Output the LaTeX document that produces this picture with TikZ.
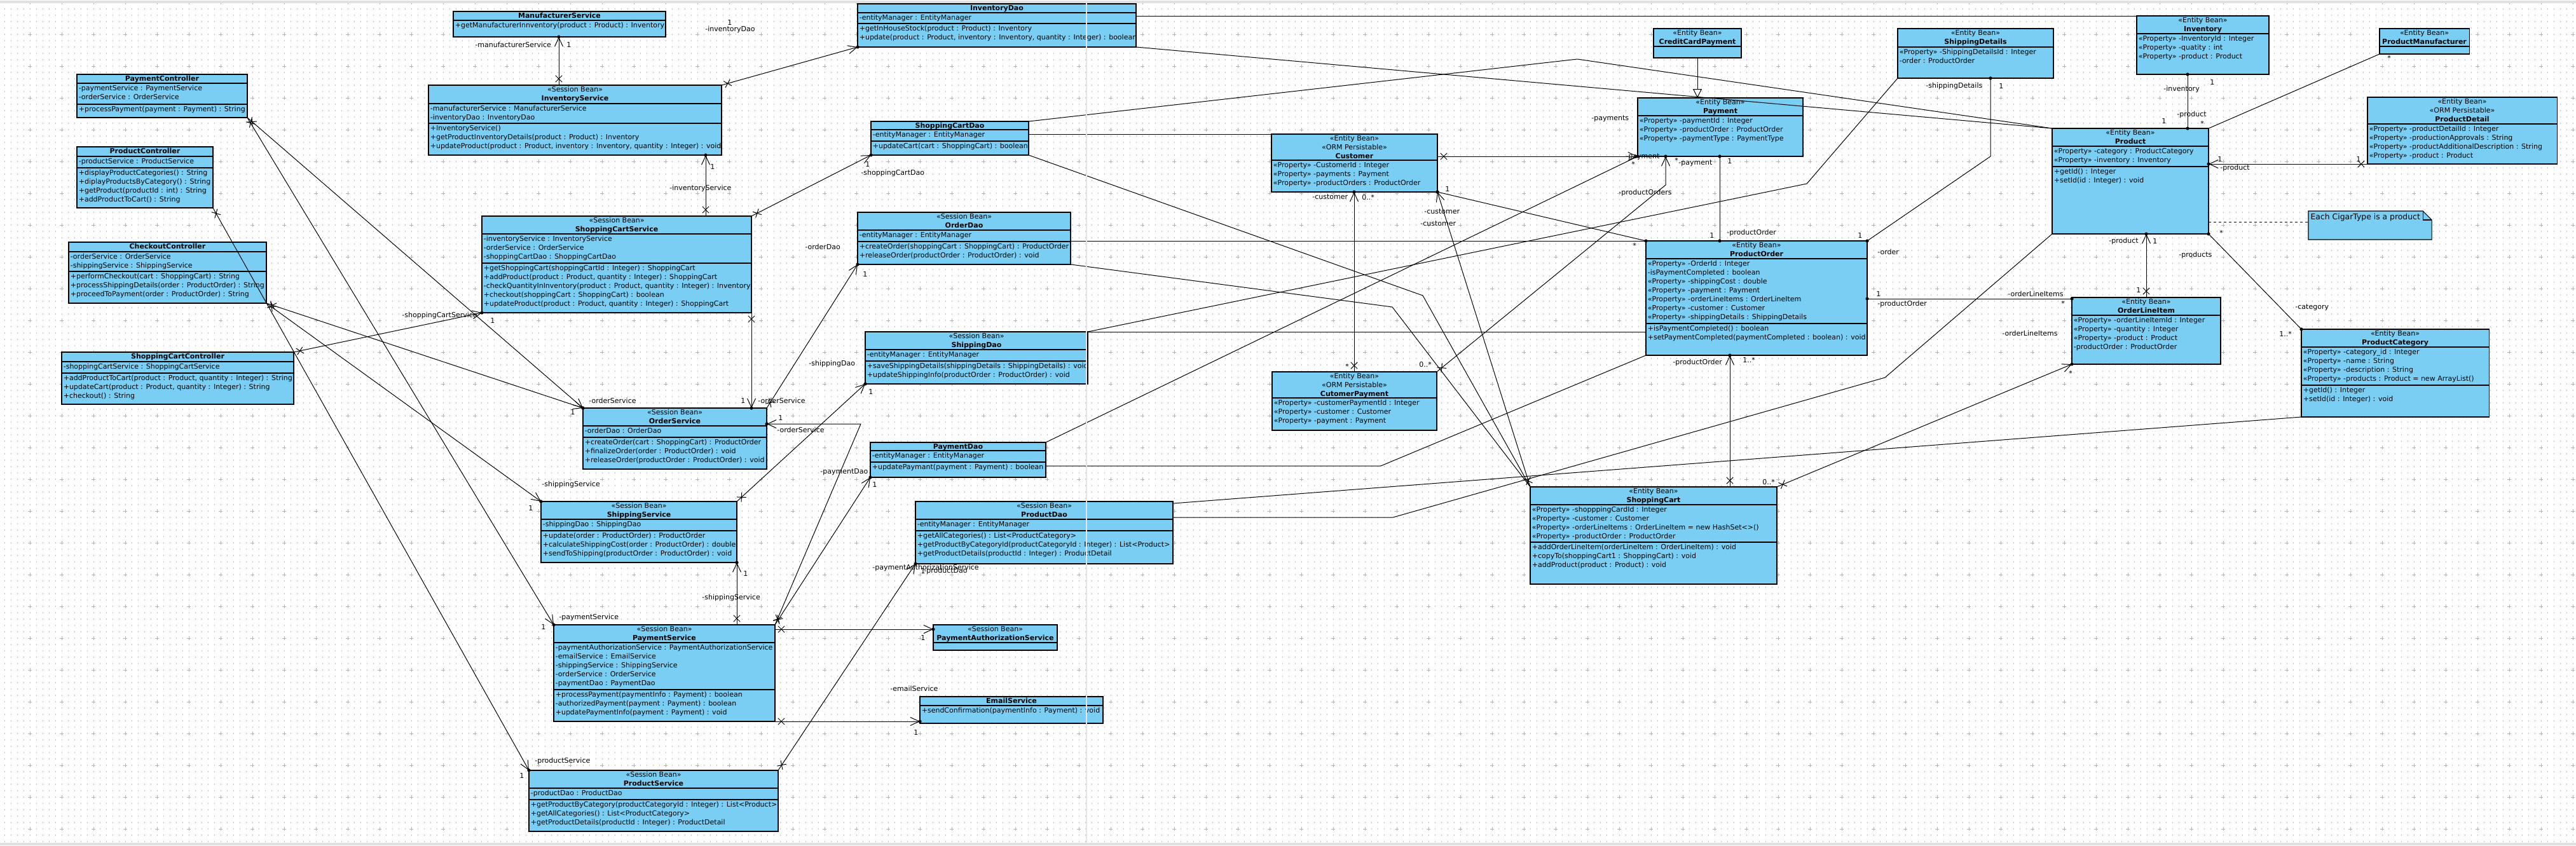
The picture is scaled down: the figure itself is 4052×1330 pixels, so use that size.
\documentclass[tikz,border=0pt]{standalone}
\usepackage{fontspec}
\setmainfont{DejaVu Sans}
\usetikzlibrary{arrows.meta,calc,decorations.markings}
\definecolor{boxfill}{RGB}{122,206,244}
\definecolor{gridc}{RGB}{192,192,192}
\definecolor{crossc}{RGB}{178,178,178}
\definecolor{seamc}{RGB}{228,228,228}
\tikzset{
 cbox/.style={draw, fill=boxfill, line width=0.55pt, inner sep=0pt, outer sep=0pt},
 htext/.style={align=center, inner xsep=1pt, inner ysep=0.9pt},
 ctext/.style={align=left, inner xsep=1.2pt, inner ysep=1.2pt},
 cline/.style={line width=0.55pt},
 ln/.style={line width=0.5pt},
 xs/.style={postaction={decorate,decoration={markings,mark=at position 5pt with {\draw[-,solid,line width=0.5pt] (-2.6pt,-2.6pt)--(2.6pt,2.6pt) (-2.6pt,2.6pt)--(2.6pt,-2.6pt);}}}},
 ds/.style={postaction={decorate,decoration={markings,mark=at position 0 with {\fill[-] (0,0) circle (1.3pt);}}}},
 de/.style={postaction={decorate,decoration={markings,mark=at position 1 with {\fill[-] (0,0) circle (1.3pt);}}}},
 nav/.style={-{Straight Barb[length=7pt,width=6.5pt,line width=0.5pt]},de},
 gen/.style={-{Triangle[open,fill=white,length=7pt,width=7pt,line width=0.5pt]}},
 lbl/.style={inner sep=0pt, anchor=west},
}
\newcommand\umlcls[6]{%
  \node[cbox, anchor=north west, minimum width=#4*0.5pt, minimum height=#5*0.5pt] (#1) at (#2,#3) {};
  \node[htext, anchor=north] (#1-hd) at (#1.north) {#6};
}
\newcommand\umlcomp[4]{%
  \draw[cline] ($(#1.north west)+(0,#3)$) -- ($(#1.north east)+(0,#3)$);
  \node[ctext, anchor=north west] (#1-#2) at ($(#1.north west)+(0,#3)$) {#4};
}
\newcommand\prx{<<Property>> -}
\newcommand\sbx{<<Session Bean>>\\}
\newcommand\ebx{<<Entity Bean>>\\}
\begin{document}
\begin{tikzpicture}[x=0.5pt,y=-0.5pt,font=\fontsize{5.5}{7}\selectfont]
\useasboundingbox (0,0) rectangle (4052,1330);
\fill[white] (0,0) rectangle (4052,1330);
% grid
\foreach \yy in {4,14,...,1324} \draw[gridc, line width=0.6pt, dash pattern=on 0.6pt off 4.4pt] (7,\yy) -- (4052,\yy);
\foreach \yy in {4,54,...,1304} \draw[crossc, line width=0.5pt, dash pattern=on 3pt off 22pt] (44,\yy) -- (4052,\yy);
\foreach \xx in {47,97,...,4047} \draw[crossc, line width=0.5pt, dash pattern=on 3pt off 22pt] (\xx,1) -- (\xx,1330);
\fill[black!12] (0,1) rectangle (4052,5);
\fill[black!12] (0,1326) rectangle (4052,1330);

% ---------- controllers
\umlcls{PaymentController}{121}{117}{268}{68}{\textbf{PaymentController}}
\umlcomp{PaymentController}{a}{14}{-paymentService : PaymentService\\-orderService : OrderService}
\umlcomp{PaymentController}{m}{47}{+processPayment(payment : Payment) : String}

\umlcls{ProductController}{121}{231}{214}{96}{\textbf{ProductController}}
\umlcomp{ProductController}{a}{15}{-productService : ProductService}
\umlcomp{ProductController}{m}{33}{+displayProductCategories() : String\\+diplayProductsByCategory() : String\\+getProduct(productId : int) : String\\+addProductToCart() : String}

\umlcls{CheckoutController}{108}{381}{311}{96}{\textbf{CheckoutController}}
\umlcomp{CheckoutController}{a}{15}{-orderService : OrderService\\-shippingService : ShippingService}
\umlcomp{CheckoutController}{m}{46}{+performCheckout(cart : ShoppingCart) : String\\+processShippingDetails(order : ProductOrder) : String\\+proceedToPayment(order : ProductOrder) : String}

\umlcls{ShoppingCartController}{97}{554}{365}{82}{\textbf{ShoppingCartController}}
\umlcomp{ShoppingCartController}{a}{15}{-shoppingCartService : ShoppingCartService}
\umlcomp{ShoppingCartController}{m}{33}{+addProductToCart(product : Product, quantity : Integer) : String\\+updateCart(product : Product, quantity : Integer) : String\\+checkout() : String}

% ---------- services
\umlcls{ManufacturerService}{713}{18}{334}{40}{\textbf{ManufacturerService}}
\umlcomp{ManufacturerService}{m}{14}{+getManufacturerInnventory(product : Product) : Inventory}

\umlcls{InventoryService}{674}{134}{461}{110}{\sbx\textbf{InventoryService}}
\umlcomp{InventoryService}{a}{29}{-manufacturerService : ManufacturerService\\-inventoryDao : InventoryDao}
\umlcomp{InventoryService}{m}{60}{+InventoryService()\\+getProductInventoryDetails(product : Product) : Inventory\\+updateProduct(product : Product, inventory : Inventory, quantity : Integer) : void}

\umlcls{ShoppingCartService}{758}{340}{424}{152}{\sbx\textbf{ShoppingCartService}}
\umlcomp{ShoppingCartService}{a}{28}{-inventoryService : InventoryService\\-orderService : OrderService\\-shoppingCartDao : ShoppingCartDao}
\umlcomp{ShoppingCartService}{m}{74}{+getShoppingCart(shoppingCartId : Integer) : ShoppingCart\\+addProduct(product : Product, quantity : Integer) : ShoppingCart\\-checkQuantityInInventory(product : Product, quantity : Integer) : Inventory\\+checkout(shoppingCart : ShoppingCart) : boolean\\+updateProduct(product : Product, quantity : Integer) : ShoppingCart}

\umlcls{OrderService}{917}{642}{289}{96}{\sbx\textbf{OrderService}}
\umlcomp{OrderService}{a}{28}{-orderDao : OrderDao}
\umlcomp{OrderService}{m}{46}{+createOrder(cart : ShoppingCart) : ProductOrder\\+finalizeOrder(order : ProductOrder) : void\\+releaseOrder(productOrder : ProductOrder) : void}

\umlcls{ShippingService}{851}{789}{308}{96}{\sbx\textbf{ShippingService}}
\umlcomp{ShippingService}{a}{28}{-shippingDao : ShippingDao}
\umlcomp{ShippingService}{m}{46}{+update(order : ProductOrder) : ProductOrder\\+calculateShippingCost(order : ProductOrder) : double\\+sendToShipping(productOrder : ProductOrder) : void}

\umlcls{PaymentService}{871}{983}{348}{152}{\sbx\textbf{PaymentService}}
\umlcomp{PaymentService}{a}{28}{-paymentAuthorizationService : PaymentAuthorizationService\\-emailService : EmailService\\-shippingService : ShippingService\\-orderService : OrderService\\-paymentDao : PaymentDao}
\umlcomp{PaymentService}{m}{102}{+processPayment(paymentInfo : Payment) : boolean\\-authorizedPayment(payment : Payment) : boolean\\+updatePaymentInfo(payment : Payment) : void}

\umlcls{ProductService}{832}{1212}{392}{96}{\sbx\textbf{ProductService}}
\umlcomp{ProductService}{a}{28}{-productDao : ProductDao}
\umlcomp{ProductService}{m}{46}{+getProductByCategory(productCategoryId : Integer) : List<Product>\\+getAllCategories() : List<ProductCategory>\\+getProductDetails(productId : Integer) : ProductDetail}

% ---------- daos
\umlcls{InventoryDao}{1349}{6}{438}{68}{\textbf{InventoryDao}}
\umlcomp{InventoryDao}{a}{14}{-entityManager : EntityManager}
\umlcomp{InventoryDao}{m}{31}{+getInHouseStock(product : Product) : Inventory\\+update(product : Product, inventory : Inventory, quantity : Integer) : boolean}

\umlcls{ShoppingCartDao}{1370}{191}{248}{53}{\textbf{ShoppingCartDao}}
\umlcomp{ShoppingCartDao}{a}{13}{-entityManager : EntityManager}
\umlcomp{ShoppingCartDao}{m}{31}{+updateCart(cart : ShoppingCart) : boolean}

\umlcls{OrderDao}{1349}{334}{335}{82}{\sbx\textbf{OrderDao}}
\umlcomp{OrderDao}{a}{28}{-entityManager : EntityManager}
\umlcomp{OrderDao}{m}{46}{+createOrder(shoppingCart : ShoppingCart) : ProductOrder\\+releaseOrder(productOrder : ProductOrder) : void}

\umlcls{ShippingDao}{1361}{522}{350}{82}{\sbx\textbf{ShippingDao}}
\umlcomp{ShippingDao}{a}{28}{-entityManager : EntityManager}
\umlcomp{ShippingDao}{m}{46}{+saveShippingDetails(shippingDetails : ShippingDetails) : void\\+updateShippingInfo(productOrder : ProductOrder) : void}

\umlcls{PaymentDao}{1369}{696}{276}{55}{\textbf{PaymentDao}}
\umlcomp{PaymentDao}{a}{13}{-entityManager : EntityManager}
\umlcomp{PaymentDao}{m}{31}{+updatePaymant(payment : Payment) : boolean}

\umlcls{ProductDao}{1440}{789}{405}{98}{\sbx\textbf{ProductDao}}
\umlcomp{ProductDao}{a}{28}{-entityManager : EntityManager}
\umlcomp{ProductDao}{m}{46}{+getAllCategories() : List<ProductCategory>\\+getProductByCategoryId(productCategoryId : Integer) : List<Product>\\+getProductDetails(productId : Integer) : ProductDetail}

\umlcls{PaymentAuthorizationService}{1468}{983}{195}{40}{\sbx\textbf{PaymentAuthorizationService}}
\umlcomp{PaymentAuthorizationService}{a}{28}{}

\umlcls{EmailService}{1447}{1096}{288}{42}{\textbf{EmailService}}
\umlcomp{EmailService}{m}{14}{+sendConfirmation(paymentInfo : Payment) : void}

% ---------- entities
\umlcls{CreditCardPayment}{2601}{45}{138}{46}{\ebx\textbf{CreditCardPayment}}
\umlcomp{CreditCardPayment}{a}{28}{}

\umlcls{ShippingDetails}{2985}{45}{245}{78}{\ebx\textbf{ShippingDetails}}
\umlcomp{ShippingDetails}{a}{29}{\prx ShippingDetailsId : Integer\\-order : ProductOrder}

\umlcls{Payment}{2576}{154}{260}{92}{\ebx\textbf{Payment}}
\umlcomp{Payment}{a}{28}{\prx paymentId : Integer\\\prx productOrder : ProductOrder\\\prx paymentType : PaymentType}

\umlcls{Customer}{2000}{211}{261}{91}{\ebx<<ORM Persistable>>\\\textbf{Customer}}
\umlcomp{Customer}{a}{41}{\prx CustomerId : Integer\\\prx payments : Payment\\\prx productOrders : ProductOrder}

\umlcls{CustomerPayment}{2001}{585}{259}{92}{\ebx<<ORM Persistable>>\\\textbf{CutomerPayment}}
\umlcomp{CustomerPayment}{a}{41}{\prx customerPaymentId : Integer\\\prx customer : Customer\\\prx payment : Payment}

\umlcls{ProductOrder}{2589}{379}{348}{180}{\ebx\textbf{ProductOrder}}
\umlcomp{ProductOrder}{a}{28}{\prx OrderId : Integer\\-isPaymentCompleted : boolean\\\prx shippingCost : double\\\prx payment : Payment\\\prx orderLineItems : OrderLineItem\\\prx customer : Customer\\\prx shippingDetails : ShippingDetails}
\umlcomp{ProductOrder}{m}{130}{+isPaymentCompleted() : boolean\\+setPaymentCompleted(paymentCompleted : boolean) : void}

\umlcls{ShoppingCart}{2407}{766}{388}{153}{\ebx\textbf{ShoppingCart}}
\umlcomp{ShoppingCart}{a}{28}{\prx shopppingCardId : Integer\\\prx customer : Customer\\\prx orderLineItems : OrderLineItem = new HashSet<>()\\\prx productOrder : ProductOrder}
\umlcomp{ShoppingCart}{m}{87}{+addOrderLineItem(orderLineItem : OrderLineItem) : void\\+copyTo(shoppingCart1 : ShoppingCart) : void\\+addProduct(product : Product) : void}

\umlcls{Inventory}{3361}{25}{208}{92}{\ebx\textbf{Inventory}}
\umlcomp{Inventory}{a}{28}{\prx InventoryId : Integer\\\prx quatity : int\\\prx product : Product}

\umlcls{ProductManufacturer}{3743}{45}{141}{40}{\ebx\textbf{ProductManufacturer}}
\umlcomp{ProductManufacturer}{a}{28}{}

\umlcls{Product}{3228}{202}{246}{166}{\ebx\textbf{Product}}
\umlcomp{Product}{a}{28}{\prx category : ProductCategory\\\prx inventory : Inventory}
\umlcomp{Product}{m}{60}{+getId() : Integer\\+setId(id : Integer) : void}

\umlcls{ProductDetail}{3724}{153}{298}{105}{\ebx<<ORM Persistable>>\\\textbf{ProductDetail}}
\umlcomp{ProductDetail}{a}{42}{\prx productDetailId : Integer\\\prx productionApprovals : String\\\prx productAdditionalDescription : String\\\prx product : Product}

\umlcls{OrderLineItem}{3259}{468}{234}{105}{\ebx\textbf{OrderLineItem}}
\umlcomp{OrderLineItem}{a}{28}{\prx orderLineItemId : Integer\\\prx quantity : Integer\\\prx product : Product\\-productOrder : ProductOrder}

\umlcls{ProductCategory}{3620}{518}{295}{138}{\ebx\textbf{ProductCategory}}
\umlcomp{ProductCategory}{a}{28}{\prx category\_id : Integer\\\prx name : String\\\prx description : String\\\prx products : Product = new ArrayList()}
\umlcomp{ProductCategory}{m}{88}{+getId() : Integer\\+setId(id : Integer) : void}

% note
\node[inner sep=0pt, outer sep=0pt, minimum width=97pt, minimum height=22.5pt, anchor=north west] (Note) at (3631,332) {};
\filldraw[fill=boxfill, line width=0.55pt] (Note.north west) -- ($(Note.north east)+(-14,0)$) -- ($(Note.north east)+(0,14)$) -- (Note.south east) -- (Note.south west) -- cycle;
\draw[line width=0.55pt] ($(Note.north east)+(-14,0)$) -- ($(Note.north east)+(-14,14)$) -- ($(Note.north east)+(0,14)$);
\node[anchor=north west, inner sep=1.6pt, font=\fontsize{6.2}{7.5}\selectfont] (Note-t) at (Note.north west) {Each CigarType is a product};

% ---------- controller / service associations
\draw[ln,xs,nav] (PaymentController.south east) -- (OrderService.north west);
\draw[ln,xs,nav] (PaymentController.south east) -- (PaymentService.north west);
\draw[ln,xs,nav] (ProductController.south east) -- (ProductService.north west);
\draw[ln,xs,nav] (CheckoutController.south east) -- (OrderService.north west);
\draw[ln,xs,nav] (CheckoutController.south east) -- (ShippingService.north west);
\draw[ln,xs,nav] (ShoppingCartController.north east) -- (ShoppingCartService.south west);
\draw[ln,xs,nav] ($(InventoryService.north west)+(205,0)$) -- ($(ManufacturerService.south west)+(166,0)$);
\draw[ln,xs,nav] (InventoryService.north east) -- (InventoryDao.south west);
\draw[ln,xs,nav] ($(ShoppingCartService.north west)+(352,0)$) -- ($(InventoryService.south west)+(436,0)$);
\draw[ln,xs,nav] (ShoppingCartService.north east) -- (ShoppingCartDao.south west);
\draw[ln,xs,nav] (ShoppingCartService.south east) -- ($(OrderService.north west)+(265,0)$);
\draw[ln,xs,nav] (OrderService.north east) -- (OrderDao.south west);
\draw[ln,xs,nav] (ShippingService.north east) -- (ShippingDao.south west);
\coordinate (b14) at (1354,667);
\draw[ln,xs,nav] (PaymentService.north east) -- (b14) -- ($(OrderService.north east)+(0,25)$);
\draw[ln,xs,nav] (PaymentService.north east) -- (PaymentDao.south west);
\draw[ln,xs,nav] ($(PaymentService.north west)+(288,0)$) -- (ShippingService.south east);
\draw[ln,xs,nav] ($(PaymentService.north east)+(0,7)$) -- ($(PaymentAuthorizationService.north west)+(0,7)$);
\draw[ln,xs,nav] (PaymentService.south east) -- ($(EmailService.south west)+(0,-3)$);
\draw[ln,xs,nav] (ProductService.north east) -- (ProductDao.south west);

% ---------- entity associations
\draw[ln,gen] (CreditCardPayment.south) -- ($(Payment.north west)+(94,0)$);
\draw[ln,xs,nav] ($(Customer.north east)+(0,35)$) -- (Payment.south west);
\draw[ln,xs,nav] ($(CustomerPayment.north west)+(129,0)$) -- ($(Customer.south west)+(130,0)$);
\coordinate (b4) at (2620,291);
\draw[ln,xs,nav] (CustomerPayment.north east) -- (b4) -- ($(Payment.south west)+(44,0)$);
\draw[ln,ds,de] (Customer.south east) -- (ProductOrder.north west);
\draw[ln,xs,nav] (ShoppingCart.north west) -- (Customer.south east);
\draw[ln,ds,de] ($(Payment.south west)+(129,0)$) -- ($(ProductOrder.north west)+(116,0)$);
\coordinate (b8) at (3131,246);
\draw[ln,ds,de] ($(ShippingDetails.south west)+(146,0)$) -- (b8) -- (ProductOrder.north east);
\draw[ln,ds,de] ($(ProductOrder.north east)+(0,91)$) -- ($(OrderLineItem.north west)+(0,2)$);
\draw[ln,xs,nav] ($(ShoppingCart.north west)+(314,0)$) -- ($(ProductOrder.south west)+(132,0)$);
\draw[ln,xs,nav] (ShoppingCart.north east) -- (OrderLineItem.south west);
\draw[ln,ds,de] ($(Inventory.south west)+(80,0)$) -- ($(Product.north west)+(213,0)$);
\draw[ln] (ProductManufacturer.south west) -- (Product.north east);
\draw[ln,xs,nav] (ProductDetail.south west) -- ($(Product.north east)+(0,56)$);
\draw[ln,dash pattern=on 2pt off 2pt] ($(Product.north east)+(0,147)$) -- ($(Note.north west)+(0,17)$);
\draw[ln,xs,nav] (OrderLineItem.north) -- ($(Product.south west)+(148,0)$);
\draw[ln,ds,de] (Product.south east) -- (ProductCategory.north west);

% ---------- dao dependencies
\draw[ln] ($(InventoryDao.north east)+(0,19)$) -- (Inventory.north west);
\draw[ln] (InventoryDao.south east) -- (Product.north west);
\coordinate (b3) at (2481,93);
\draw[ln] (ShoppingCartDao.north east) -- (b3) -- (Product.north west);
\draw[ln] ($(ShoppingCartDao.north east)+(0,20)$) -- (Customer.north west);
\coordinate (b5) at (2238,465);
\draw[ln] (ShoppingCartDao.south east) -- (b5) -- (ShoppingCart.north west);
\draw[ln] ($(OrderDao.north east)+(0,45)$) -- (ProductOrder.north west);
\coordinate (b7) at (2190,483);
\draw[ln] (OrderDao.south east) -- (b7) -- (ShoppingCart.north west);
\draw[ln] (ShippingDao.north east) -- ($(ProductOrder.north west)+(0,143)$);
\coordinate (b9) at (2842,289);
\draw[ln] (ShippingDao.north east) -- (b9) -- (ShippingDetails.south west);
\draw[ln] (PaymentDao.north east) -- (Payment.south west);
\coordinate (b11) at (2172,733);
\draw[ln] ($(PaymentDao.north east)+(0,37)$) -- (b11) -- (ProductOrder.south west);
\draw[ln] ($(ProductDao.north east)+(0,3)$) -- (ProductCategory.south west);
\coordinate (b13a) at (2191,814);
\coordinate (b13b) at (2965,594);
\draw[ln] ($(ProductDao.north east)+(0,25)$) -- (b13a) -- (b13b) -- (Product.south west);

% ---------- page seam of the exported image
\draw[seamc, line width=1.3pt] (1709,5) -- (1709,1326);

% ---------- labels
\node[lbl] (L1) at (747,70) {-manufacturerService};
\node[lbl] (L2) at (891,70) {1};
\node[lbl] (L3) at (1144,35) {1};
\node[lbl] (L4) at (1109,46) {-inventoryDao};
\node[lbl] (L5) at (1117,262) {1};
\node[lbl] (L6) at (1053,296) {-inventoryService};
\node[lbl] (L7) at (1361,258) {1};
\node[lbl] (L8) at (1354,272) {-shoppingCartDao};
\node[lbl] (L9) at (632,496) {-shoppingCartService};
\node[lbl] (L10) at (771,504) {1};
\node[lbl] (L11) at (926,630) {-orderService};
\node[lbl] (L12) at (897,648) {1};
\node[lbl] (L13) at (1165,630) {1};
\node[lbl] (L14) at (1192,630) {-orderService};
\node[lbl] (L15) at (1357,431) {1};
\node[lbl] (L16) at (1266,388) {-orderDao};
\node[lbl] (L17) at (1224,657) {1};
\node[lbl] (L18) at (1222,676) {-orderService};
\node[lbl] (L19) at (852,762) {-shippingService};
\node[lbl] (L20) at (831,799) {1};
\node[lbl] (L21) at (1366,616) {1};
\node[lbl] (L22) at (1272,572) {-shippingDao};
\node[lbl] (L23) at (1169,902) {1};
\node[lbl] (L24) at (1104,940) {-shippingService};
\node[lbl] (L25) at (879,971) {-paymentService};
\node[lbl] (L26) at (851,986) {1};
\node[lbl] (L27) at (1290,743) {-paymentDao};
\node[lbl] (L28) at (1372,762) {1};
\node[lbl] (L29) at (1372,893) {-paymentAuthorizationService};
\node[lbl] (L30) at (1448,1003) {1};
\node[lbl] (L31) at (1400,1083) {-emailService};
\node[lbl] (L32) at (1437,1152) {1};
\node[lbl] (L33) at (841,1197) {-productService};
\node[lbl] (L34) at (817,1220) {1};
\node[lbl] (L35) at (1448,898) {1};
\node[lbl] (L36) at (1453,898) {-productDao};
\node[lbl] (L40) at (2503,187) {-payments};
\node[lbl] (L41) at (2557,247) {-payment};
\node[lbl] (L42) at (2566,258) {*};
\node[lbl] (L43) at (2634,252) {*};
\node[lbl] (L44) at (2640,257) {-payment};
\node[lbl] (L45) at (2717,253) {1};
\node[lbl] (L46) at (2689,370) {1};
\node[lbl] (L47) at (2716,366) {-productOrder};
\node[lbl] (L48) at (2546,303) {-productOrders};
\node[lbl] (L49) at (2064,310) {-customer};
\node[lbl] (L50) at (2142,310) {0..*};
\node[lbl] (L51) at (2116,576) {*};
\node[lbl] (L52) at (2232,573) {0..*};
\node[lbl] (L53) at (2273,297) {1};
\node[lbl] (L54) at (2240,333) {-customer};
\node[lbl] (L55) at (2234,352) {-customer};
\node[lbl] (L56) at (2568,386) {*};
\node[lbl] (L57) at (3029,135) {-shippingDetails};
\node[lbl] (L58) at (3144,135) {1};
\node[lbl] (L59) at (2922,370) {1};
\node[lbl] (L60) at (2953,396) {-order};
\node[lbl] (L61) at (2951,462) {1};
\node[lbl] (L62) at (2953,478) {-productOrder};
\node[lbl] (L63) at (3158,462) {-orderLineItems};
\node[lbl] (L64) at (3242,477) {*};
\node[lbl] (L65) at (3149,524) {-orderLineItems};
\node[lbl] (L66) at (3254,587) {*};
\node[lbl] (L67) at (2772,758) {0..*};
\node[lbl] (L68) at (2631,570) {-productOrder};
\node[lbl] (L69) at (2741,566) {1..*};
\node[lbl] (L70) at (3476,129) {1};
\node[lbl] (L71) at (3403,140) {-inventory};
\node[lbl] (L72) at (3424,180) {-product};
\node[lbl] (L73) at (3400,190) {1};
\node[lbl] (L74) at (3461,194) {*};
\node[lbl] (L75) at (3755,91) {*};
\node[lbl] (L76) at (3488,250) {1};
\node[lbl] (L77) at (3492,264) {-product};
\node[lbl] (L78) at (3706,250) {1};
\node[lbl] (L79) at (3386,379) {1};
\node[lbl] (L80) at (3317,379) {-product};
\node[lbl] (L81) at (3360,456) {1};
\node[lbl] (L82) at (3491,366) {*};
\node[lbl] (L83) at (3427,401) {-products};
\node[lbl] (L84) at (3610,484) {-category};
\node[lbl] (L85) at (3585,525) {1..*};
\end{tikzpicture}
\end{document}
